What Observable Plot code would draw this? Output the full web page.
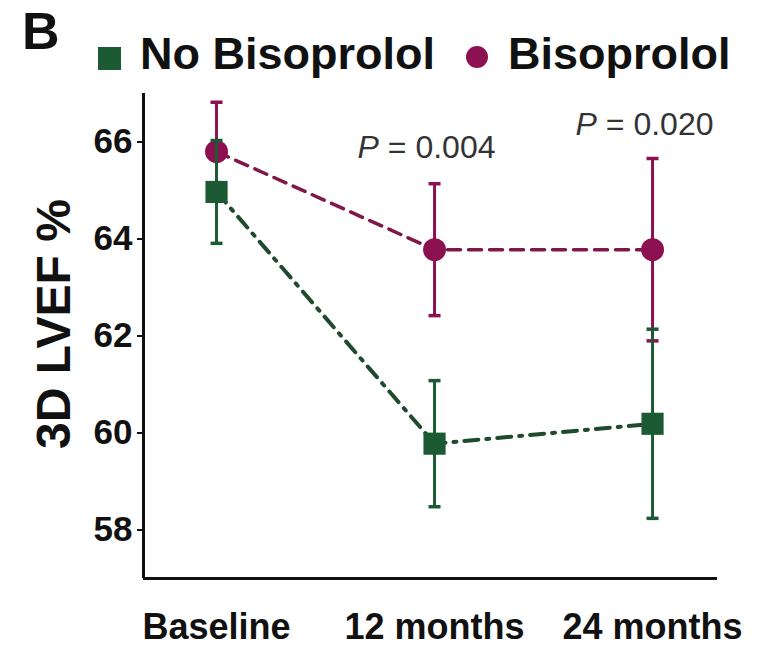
<!DOCTYPE html>
<html><head><meta charset="utf-8">
<script src="https://cdn.jsdelivr.net/npm/d3@7"></script>
<script src="https://cdn.jsdelivr.net/npm/@observablehq/plot@0.6"></script>
<style>
body{margin:0;background:#fff;font-family:"Liberation Sans",Arial,sans-serif;}
#wrap{position:relative;width:774px;height:648px;overflow:hidden;}
#wrap svg{position:absolute;left:0;top:0;}
.lbl{position:absolute;font-weight:bold;color:#111;line-height:1;white-space:nowrap;}
.sw{position:absolute;}
</style></head><body><div id="wrap"></div>
<script>
const categories = ["Baseline", "12 months", "24 months"];
const seriesNames = ["No Bisoprolol", "Bisoprolol"];
const panelLabel = "B";
const yLabel = "3D LVEF %";
const yTicks = [58, 60, 62, 64, 66];
const noBisoMean = [64.97, 59.78, 60.19];
const noBisoErr = [1.06, 1.30, 1.95];
const bisoMean = [65.80, 63.78, 63.78];
const bisoErr = [1.02, 1.36, 1.88];
const pValues = ["", "0.004", "0.020"];
const pValueY = [null, 65.88, 66.35];

const GREEN = "#1b5a32", MAROON = "#8c1150";
const GREEN_LINE = "#1f4a2e", MAROON_LINE = "#7f1848";

const rows = (mean, err, s) => categories.map((c, i) => ({i, cat: c, mean: mean[i], lo: mean[i] - err[i], hi: mean[i] + err[i], series: s}));
const green = rows(noBisoMean, noBisoErr, seriesNames[0]);
const maroon = rows(bisoMean, bisoErr, seriesNames[1]);
const pAnn = categories.map((c, i) => ({i, y: pValueY[i], text: pValues[i] ? "P = " + pValues[i] : null})).filter(d => d.text);

const cap = {draw(ctx, size) { const w = Math.sqrt(size / Math.PI); ctx.moveTo(-w, 0); ctx.lineTo(w, 0); }};

const errMarks = (data, color) => [
  Plot.ruleX(data, {x: "i", y1: "lo", y2: "hi", stroke: color, strokeWidth: 3}),
  Plot.dot(data, {x: "i", y: "lo", symbol: cap, r: 6, stroke: color, fill: "none", strokeWidth: 3.5}),
  Plot.dot(data, {x: "i", y: "hi", symbol: cap, r: 6, stroke: color, fill: "none", strokeWidth: 3.5})
];

const xDomain = [-0.335, 2.298];
const yDomain = [57, 67];

const chart = Plot.plot({
  width: 774,
  height: 648,
  marginLeft: 143,
  marginRight: 57,
  marginTop: 93,
  marginBottom: 70,
  style: {fontFamily: "'Liberation Sans', Arial, sans-serif", color: "#111", background: "transparent"},
  x: {type: "linear", domain: xDomain},
  y: {domain: yDomain},
  marks: [
    Plot.axisY({ticks: yTicks, tickSize: 6, tickPadding: 5, fontSize: 35, fontWeight: "bold", label: null, strokeWidth: 2}),
    Plot.axisX({ticks: [0, 1, 2], tickFormat: i => categories[i], tickSize: 0, tickPadding: 35, fontSize: 36, fontWeight: "bold", label: null}),
    Plot.ruleX([xDomain[0]], {stroke: "#111", strokeWidth: 3}),
    Plot.ruleY([yDomain[0]], {stroke: "#111", strokeWidth: 3}),
    Plot.text([yLabel], {frameAnchor: "left", textAnchor: "middle", lineAnchor: "middle", rotate: -90, dx: -89, dy: -12, fontSize: 48, fontWeight: "bold", fill: "#111"}),
    Plot.line(maroon, {x: "i", y: "mean", stroke: MAROON_LINE, strokeWidth: 3.5, strokeDasharray: "13,8"}),
    ...errMarks(maroon, MAROON),
    Plot.dot(maroon, {x: "i", y: "mean", symbol: "circle", r: 11.5, fill: MAROON}),
    Plot.line(green, {x: "i", y: "mean", stroke: GREEN_LINE, strokeWidth: 4, strokeDasharray: "14,8,3,8"}),
    ...errMarks(green, GREEN),
    Plot.dot(green, {x: "i", y: "mean", symbol: "square", r: 12.5, fill: GREEN}),
    Plot.text(pAnn, {x: "i", y: "y", text: "text", dx: -8, fontSize: 32, fontWeight: "normal", fill: "#333", lineAnchor: "middle"})
  ]
});

const wrap = document.getElementById("wrap");
wrap.appendChild(chart);

chart.querySelectorAll("text").forEach(t => {
  const s = t.textContent;
  if (s.startsWith("P = ")) {
    t.textContent = "";
    const ns = "http://www.w3.org/2000/svg";
    const a = document.createElementNS(ns, "tspan");
    a.setAttribute("font-style", "italic");
    a.textContent = "P";
    const b = document.createElementNS(ns, "tspan");
    b.textContent = s.slice(1);
    t.appendChild(a); t.appendChild(b);
  }
});

function addDiv(cls, style, text) {
  const d = document.createElement("div");
  d.className = cls;
  d.setAttribute("style", style);
  if (text) d.textContent = text;
  wrap.appendChild(d);
}
addDiv("lbl", "left:22px;top:5px;font-size:52px", panelLabel);
addDiv("sw", `left:98px;top:47px;width:23px;height:23px;background:${GREEN}`);
addDiv("lbl", "left:140px;top:31px;font-size:45px", seriesNames[0]);
addDiv("sw", `left:466px;top:46px;width:22px;height:22px;border-radius:50%;background:${MAROON}`);
addDiv("lbl", "left:508px;top:31px;font-size:45px", seriesNames[1]);
</script>
</body></html>
